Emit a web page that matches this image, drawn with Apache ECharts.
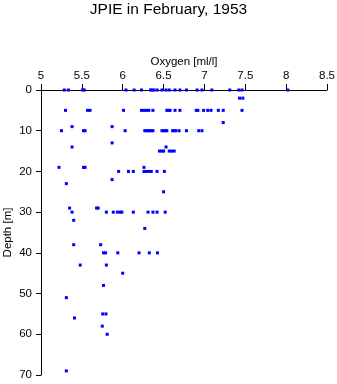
<!DOCTYPE html>
<html>
<head>
<meta charset="utf-8">
<script src="https://cdn.jsdelivr.net/npm/echarts@6/dist/echarts.min.js"></script>
<style>html,body{margin:0;padding:0;background:#fff;}#c{width:337px;height:384px;}</style>
</head>
<body>
<div id="c"></div>
<script>
// Depth levels [m] and oxygen readings [ml/l] observed at each level
const depthLevels = [0, 2, 5, 8, 9, 10, 13, 14, 15, 19, 20, 22, 23, 25, 29, 30, 32, 34, 38, 40, 43, 45, 48, 51, 55, 56, 58, 60, 69];
const oxygenAtDepth = [
  [5.285, 5.335, 5.51, 5.53, 6.04, 6.14, 6.23, 6.34, 6.36, 6.38, 6.42, 6.48, 6.53, 6.57, 6.64, 6.70, 6.78, 6.91, 6.97, 7.09, 7.31, 7.42, 7.46, 8.02],
  [7.43, 7.47],
  [5.30, 5.57, 5.60, 6.01, 6.23, 6.26, 6.29, 6.32, 6.37, 6.54, 6.56, 6.58, 6.64, 6.70, 6.90, 6.92, 6.99, 7.04, 7.08, 7.17, 7.23, 7.46],
  [7.23],
  [5.38, 5.87],
  [5.25, 5.52, 5.54, 6.03, 6.27, 6.29, 6.31, 6.33, 6.35, 6.37, 6.48, 6.50, 6.52, 6.54, 6.61, 6.63, 6.65, 6.69, 6.78, 6.93, 6.97],
  [5.87],
  [5.38, 6.53],
  [6.45, 6.48, 6.50, 6.57, 6.60, 6.63],
  [5.22, 5.52, 5.54, 6.26],
  [5.95, 6.07, 6.13, 6.26, 6.29, 6.32, 6.35, 6.42, 6.51],
  [5.87],
  [5.31],
  [6.50],
  [5.35, 5.68, 5.70],
  [5.38, 5.80, 5.885, 5.935, 5.97, 5.99, 6.13, 6.31, 6.37, 6.42, 6.52],
  [5.40],
  [6.27],
  [5.40, 5.73],
  [5.765, 5.79, 5.94, 6.20, 6.325, 6.425],
  [5.48, 5.80],
  [6.00],
  [5.765],
  [5.31],
  [5.755, 5.795],
  [5.41],
  [5.75],
  [5.81],
  [5.31]
];
const oxygenTicks = [5, 5.5, 6, 6.5, 7, 7.5, 8, 8.5];
const depthTicks = [0, 10, 20, 30, 40, 50, 60, 70];

const points = [];
depthLevels.forEach((d, i) => oxygenAtDepth[i].forEach(o => points.push([o, d])));

const font = 'Liberation Sans, Arial, Helvetica, sans-serif';
const chart = echarts.init(document.getElementById('c'), null, {renderer: 'canvas'});
chart.setOption({
  animation: false,
  backgroundColor: '#fff',
  title: {
    text: 'JPIE in February, 1953',
    left: 'center',
    top: -3,
    textStyle: {fontFamily: font, fontSize: 15.5, fontWeight: 'normal', color: '#000'}
  },
  grid: {left: 41, right: 10, top: 90, bottom: 9, outerBoundsMode: 'none', containLabel: false},
  xAxis: {
    type: 'value',
    position: 'top',
    min: oxygenTicks[0],
    max: oxygenTicks[oxygenTicks.length - 1],
    interval: 0.5,
    name: 'Oxygen [ml/l]',
    nameLocation: 'middle',
    nameGap: 22,
    nameMoveOverlap: false,
    nameTextStyle: {fontFamily: font, fontSize: 11.5, color: '#000'},
    axisLine: {show: true, lineStyle: {color: '#000', width: 1}},
    axisTick: {show: true, length: 6, lineStyle: {color: '#000'}},
    axisLabel: {fontFamily: font, fontSize: 11.5, color: '#000', margin: 8,
      formatter: v => { const t = oxygenTicks.find(x => Math.abs(x - v) < 1e-6); return t === undefined ? '' : String(t); }},
    splitLine: {show: false}
  },
  yAxis: {
    type: 'value',
    inverse: true,
    min: depthTicks[0],
    max: depthTicks[depthTicks.length - 1],
    interval: 10,
    name: 'Depth [m]',
    nameLocation: 'middle',
    nameGap: 27,
    nameMoveOverlap: false,
    nameRotate: 90,
    nameTextStyle: {fontFamily: font, fontSize: 11.5, color: '#000'},
    axisLine: {show: true, lineStyle: {color: '#000', width: 1}},
    axisTick: {show: true, length: 5, lineStyle: {color: '#000'}},
    axisLabel: {fontFamily: font, fontSize: 11.5, color: '#000', margin: 9},
    splitLine: {show: false}
  },
  series: [{
    type: 'scatter',
    data: points,
    symbol: 'rect',
    symbolSize: 3,
    itemStyle: {color: '#0000ff', opacity: 1},
    emphasis: {disabled: true}
  }]
});
</script>
</body>
</html>
